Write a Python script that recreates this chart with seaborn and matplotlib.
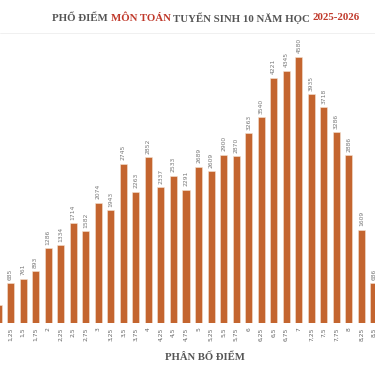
import matplotlib
matplotlib.use("Agg")
import matplotlib.pyplot as plt
import seaborn as sns
import pandas as pd

# Score bins (visible part of the chart) and number of students per bin
scores = ["1", "1,25", "1,5", "1,75", "2", "2,25", "2,5", "2,75", "3", "3,25",
          "3,5", "3,75", "4", "4,25", "4,5", "4,75", "5", "5,25", "5,5", "5,75",
          "6", "6,25", "6,5", "6,75", "7", "7,25", "7,5", "7,75", "8", "8,25", "8,5"]
counts = [310, 685, 761, 893, 1286, 1334, 1714, 1582, 2074, 1943,
          2745, 2263, 2852, 2337, 2533, 2291, 2689, 2609, 2900, 2870,
          3263, 3540, 4221, 4345, 4580, 3935, 3718, 3286, 2886, 1609, 686]

df = pd.DataFrame({"score": scores, "count": counts})

bar_color = "#C4652F"
grey = "#555555"

sns.set_style("white")
plt.rcParams["font.family"] = ["DejaVu Sans"]

fig = plt.figure(figsize=(3.75, 3.66), dpi=100)
ax = fig.add_axes([0, 0.1175, 1, 0.8825])

sns.barplot(data=df, x="score", y="count", color=bar_color, width=0.56,
            edgecolor="#F3E3D3", linewidth=0.4, saturation=1, ax=ax)

# value labels above bars (the first bar is cut by the left edge, its label is out of view)
for i, v in enumerate(counts):
    if i == 0:
        continue
    ax.text(i, v + 60, str(v), rotation=90, ha="center", va="bottom",
            fontsize=4.3, color="#777777")

ax.set_xlim(0.16, 30.08)
ax.set_ylim(0, 5560)
ax.set_yticks([])
ax.set_xlabel("")
ax.set_ylabel("")
ax.tick_params(axis="x", length=0, pad=3, labelsize=4.3, labelcolor="#666666",
               labelrotation=90)
for s in ax.spines.values():
    s.set_visible(False)

# faint separator line under the title
fig.add_artist(plt.Line2D([0, 1], [1 - 33 / 366, 1 - 33 / 366],
                          color="#EEEEEE", linewidth=0.6))

# title with coloured parts
serif = "Liberation Serif"
parts = [("PHỔ ĐIỂM", grey), ("MÔN TOÁN", "#C0392B"),
         ("TUYỂN SINH 10 NĂM HỌC", grey), ("2025-2026", "#C0392B")]
renderer = fig.canvas.get_renderer()
texts = []
for txt, col in parts:
    t = fig.text(0, 1 - 18 / 366, txt, fontsize=7.8, fontweight="bold",
                 family=serif, color=col, va="center", ha="left")
    texts.append(t)
widths = [t.get_window_extent(renderer).width for t in texts]
gap = 2.6
total = sum(widths) + gap * (len(widths) - 1)
x0 = 206 - total / 2
for t, w in zip(texts, widths):
    t.set_x(x0 / 375)
    x0 += w + gap

fig.text(205 / 375, 1 - 357 / 366, "PHÂN BỐ ĐIỂM", fontsize=7.7,
         fontweight="bold", family=serif, color=grey, ha="center", va="center")

fig.savefig("out.png", dpi=100, facecolor="white")
